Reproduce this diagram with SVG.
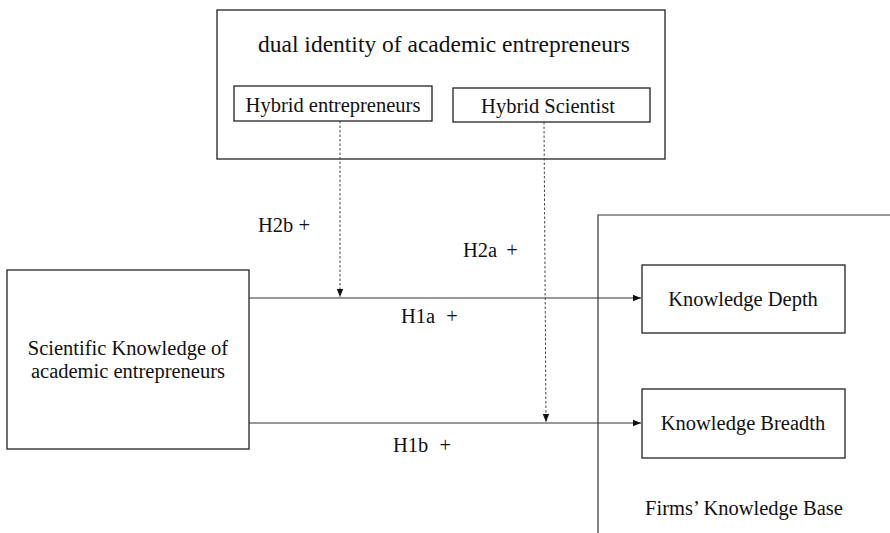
<svg xmlns="http://www.w3.org/2000/svg" width="890" height="533" viewBox="0 0 890 533">
<style>
text{font-family:"Liberation Serif","Times New Roman",serif;fill:#111;font-size:20.5px}
.box{fill:#fff;stroke:#222;stroke-width:1.3}
.ln{fill:none;stroke:#333;stroke-width:1.2}
.dash{fill:none;stroke:#444;stroke-width:1;stroke-dasharray:2.5,2}
.mid{text-anchor:middle}
</style>
<defs>
<marker id="ah" viewBox="0 0 10 10" refX="10" refY="5" markerWidth="8" markerHeight="8" markerUnits="userSpaceOnUse" orient="auto">
<path d="M0,1 L10,5 L0,9 Z" fill="#111"/>
</marker>
</defs>
<rect width="890" height="533" fill="#fff"/>
<g id="moderator">
<rect class="box" x="217" y="10" width="448" height="149"/>
<text class="mid" x="444" y="52" style="font-size:23.5px">dual identity of academic entrepreneurs</text>
</g>
<g id="hybrid-entrepreneurs">
<rect class="box" x="234" y="86" width="198" height="35"/>
<text class="mid" x="333" y="112">Hybrid entrepreneurs</text>
</g>
<g id="hybrid-scientist">
<rect class="box" x="453" y="88" width="197" height="34"/>
<text class="mid" x="548" y="113">Hybrid Scientist</text>
</g>
<g id="firms-knowledge-base">
<path class="ln" d="M598,533 V215 H890" stroke-width="1.3"/>
<text class="mid" x="744" y="515">Firms’ Knowledge Base</text>
</g>
<g id="scientific-knowledge">
<rect class="box" x="7" y="270" width="242" height="179"/>
<text class="mid" x="128" y="355">Scientific Knowledge of</text>
<text class="mid" x="128" y="378">academic entrepreneurs</text>
</g>
<g id="knowledge-depth">
<rect class="box" x="642" y="265" width="203" height="68"/>
<text class="mid" x="743" y="306">Knowledge Depth</text>
</g>
<g id="knowledge-breadth">
<rect class="box" x="642" y="389" width="203" height="69"/>
<text class="mid" x="743" y="430">Knowledge Breadth</text>
</g>
<g id="connectors">
<line class="ln" x1="249" y1="298" x2="641" y2="298" marker-end="url(#ah)"/>
<line class="ln" x1="249" y1="423" x2="641" y2="423" marker-end="url(#ah)"/>
<line class="dash" x1="340" y1="121" x2="340" y2="297" marker-end="url(#ah)"/>
<line class="dash" x1="544" y1="122" x2="546" y2="422" marker-end="url(#ah)"/>
<text x="258" y="232">H2b +</text>
<text x="463" y="257">H2a <tspan dx="4">+</tspan></text>
<text x="401" y="323">H1a <tspan dx="6">+</tspan></text>
<text x="393" y="452">H1b <tspan dx="6">+</tspan></text>
</g>
</svg>
